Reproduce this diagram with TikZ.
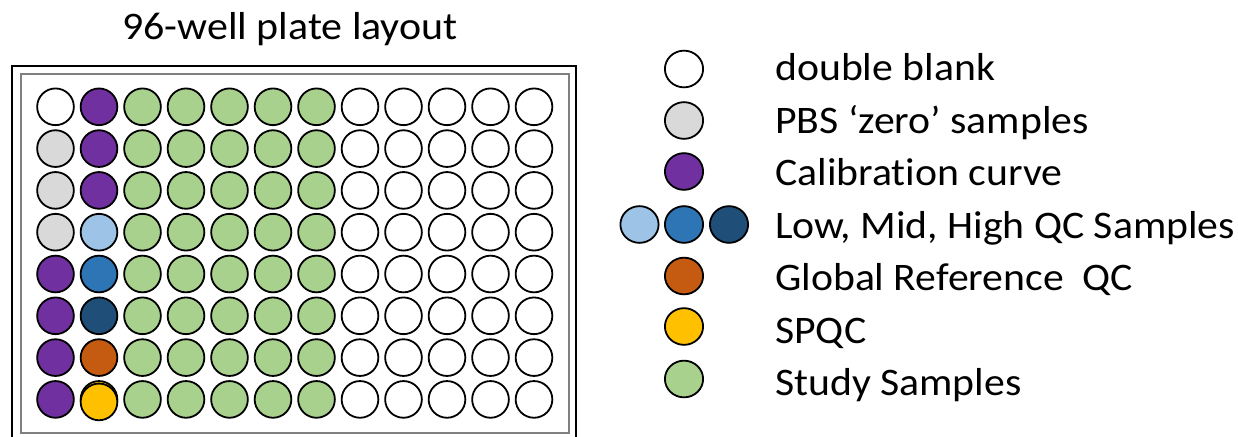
\documentclass[tikz,border=0pt]{standalone}
\usepackage{fontspec}
\setmainfont{Carlito}[Ligatures={NoCommon}]
\usetikzlibrary{shapes.geometric}
\definecolor{purp}{HTML}{7030A0}
\definecolor{lgray}{HTML}{D9D9D9}
\definecolor{lblue}{HTML}{9DC3E6}
\definecolor{mblue}{HTML}{2E75B6}
\definecolor{dblue}{HTML}{1F4E79}
\definecolor{orng}{HTML}{C55A11}
\definecolor{gold}{HTML}{FFC000}
\definecolor{grn}{HTML}{A9D18E}
\definecolor{rimgray}{HTML}{808080}
\begin{document}
\begin{tikzpicture}[x=1pt,y=-1pt,
  well/.style={circle,draw=black,line width=1.8pt,minimum size=36.7pt,inner sep=0pt},
  key/.style={ellipse,draw=black,line width=1.8pt,minimum width=38.2pt,minimum height=36.7pt,inner sep=0pt},
  lbl/.style={anchor=base west,inner sep=0pt,font=\fontsize{39}{47}\selectfont},
  ttl/.style={anchor=base,inner sep=0pt,font=\fontsize{39}{47}\selectfont}]
\useasboundingbox (0,0) rectangle (1238,436);
% title
\node[ttl] (title) at (290,39.5) {\scalebox{1.075}[1]{96-well plate layout}};
% plate frame
\begin{scope}
\clip (0,0) rectangle (1238,436);
\draw[line width=2pt] (12,65.5) rectangle (576,460);
\end{scope}
\draw[rimgray,line width=2pt] (20.5,74.3) rectangle (568.5,432.5);
% wells
\foreach \r/\a/\b in {1/white/purp,2/lgray/purp,3/lgray/purp,4/lgray/lblue,5/purp/mblue,6/purp/dblue,7/purp/orng}{
  \node[well,fill=\a] (w-\r-1) at (55.5,{106.8+41.8*(\r-1)}) {};
  \node[well,fill=\b] (w-\r-2) at (99,{106.8+41.8*(\r-1)}) {};
}
\node[well,fill=purp] (w-8-1) at (55.5,{106.8+41.8*7}) {};
\node[well,fill=gold] (w-8-2g) at (99,{106.8+41.8*7}) {};
\node[well,fill=gold] (w-8-2) at (99,{106.8+41.8*7+2.5}) {};
\foreach \r in {1,...,8}{
  \foreach \c in {3,...,7}{
    \node[well,fill=grn] (w-\r-\c) at ({55.5+43.5*(\c-1)},{106.8+41.8*(\r-1)}) {};
  }
  \foreach \c in {8,...,12}{
    \node[well,fill=white] (w-\r-\c) at ({55.5+43.5*(\c-1)},{106.8+41.8*(\r-1)}) {};
  }
}
% legend
\node[key,fill=white] (k1) at (684,69) {};
\node[key,fill=lgray] (k2) at (684,120.5) {};
\node[key,fill=purp] (k3) at (684,171.5) {};
\node[key,fill=lblue] (k4a) at (639.5,224.5) {};
\node[key,fill=mblue] (k4b) at (684,224.5) {};
\node[key,fill=dblue] (k4c) at (729,224.5) {};
\node[key,fill=orng] (k5) at (684,276) {};
\node[key,fill=gold] (k6) at (684,326.5) {};
\node[key,fill=grn] (k7) at (684,379) {};
\node[lbl] (t1) at (775,81) {\scalebox{1.07}[1]{double blank}};
\node[lbl] (t2) at (775,133.4) {\scalebox{1.07}[1]{PBS ‘zero’ samples}};
\node[lbl] (t3) at (775,185.9) {\scalebox{1.07}[1]{Calibration curve}};
\node[lbl] (t4) at (775,238.3) {\scalebox{1.07}[1]{Low, Mid, High QC Samples}};
\node[lbl] (t5) at (775,290.7) {\scalebox{1.07}[1]{Global Reference\ \ QC}};
\node[lbl] (t6) at (775,343.1) {\scalebox{1.07}[1]{SPQC}};
\node[lbl] (t7) at (775,395.5) {\scalebox{1.07}[1]{Study Samples}};
\end{tikzpicture}
\end{document}
